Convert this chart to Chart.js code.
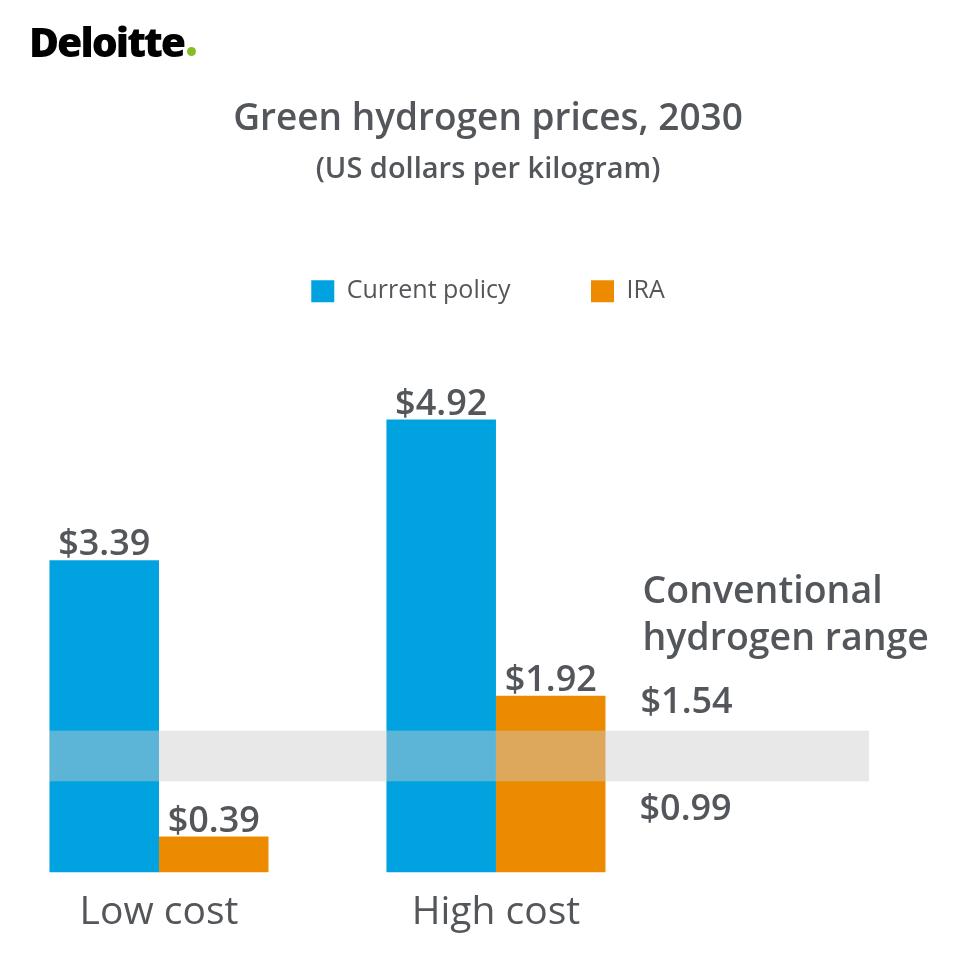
<!DOCTYPE html>
<html>
<head>
<meta charset="utf-8">
<script src="https://cdn.jsdelivr.net/npm/chart.js@4"></script>
<style>
  html, body { margin: 0; padding: 0; background: #ffffff; }
  #wrap { position: relative; width: 964px; height: 962px; }
  #logo { position: absolute; left: 29px; top: 16px; font-family: "Open Sans", sans-serif; font-weight: 800; font-size: 41px; letter-spacing: -2px; color: #000; line-height: 50px; white-space: nowrap; }
  #dot { position: absolute; left: 187px; top: 47px; width: 9px; height: 9px; border-radius: 50%; background: #86bc25; }
  canvas { position: absolute; left: 0; top: 0; }
</style>
</head>
<body>
<div id="wrap">
  <canvas id="c" width="964" height="962"></canvas>
  <div id="logo">Deloitte</div>
  <div id="dot"></div>
</div>
<script>
// ---- data ----
const categories = ['Low cost', 'High cost'];
const seriesNames = ['Current policy', 'IRA'];
const currentPolicy = [3.39, 4.92];
const ira = [0.39, 1.92];
const conventionalRange = [0.99, 1.54];
const rangeLabel = ['Conventional', 'hydrogen range'];
const titleText = 'Green hydrogen prices, 2030';
const subtitleText = '(US dollars per kilogram)';

const TEXT = '#53565a';
const BLUE = '#00a3e0';
const ORANGE = '#ed8b00';

Chart.defaults.font.family = '"Open Sans", sans-serif';
Chart.defaults.color = TEXT;

const fmt = v => '$' + v.toFixed(2);

const overlayPlugin = {
  id: 'overlay',
  afterDatasetsDraw(chart) {
    const { ctx, chartArea, scales } = chart;
    const y = scales.y;
    const top = y.getPixelForValue(conventionalRange[1]);
    const bot = y.getPixelForValue(conventionalRange[0]);
    const mid = (top + bot) / 2;
    ctx.save();
    // band
    ctx.fillStyle = 'rgba(205,205,205,0.45)';
    ctx.fillRect(chartArea.left, top, chartArea.right - chartArea.left, bot - top);
    // value labels
    ctx.fillStyle = TEXT;
    ctx.font = '600 36px "Open Sans"';
    ctx.textAlign = 'center';
    ctx.textBaseline = 'alphabetic';
    chart.data.datasets.forEach((ds, di) => {
      const meta = chart.getDatasetMeta(di);
      meta.data.forEach((el, i) => {
        ctx.fillText(fmt(ds.data[i].y), el.x, el.y - 5);
      });
    });
    // range annotation
    const lastBar = chart.getDatasetMeta(1).data[1];
    const ax = lastBar.x + lastBar.width / 2 + 37;
    ctx.textAlign = 'left';
    ctx.font = '600 37.5px "Open Sans"';
    ctx.fillText(rangeLabel[0], ax, mid - 152.5);
    ctx.fillText(rangeLabel[1], ax, mid - 105.5);
    ctx.font = '600 36px "Open Sans"';
    ctx.fillText(fmt(conventionalRange[1]), ax - 2, mid - 42.5);
    ctx.fillText(fmt(conventionalRange[0]), ax - 3, mid + 64.5);
    ctx.restore();
  }
};

new Chart(document.getElementById('c'), {
  type: 'bar',
  data: {
    datasets: [
      { label: seriesNames[0], data: categories.map((c, i) => ({ x: i, y: currentPolicy[i] })), backgroundColor: BLUE, borderWidth: 0 },
      { label: seriesNames[1], data: categories.map((c, i) => ({ x: i, y: ira[i] })), backgroundColor: ORANGE, borderWidth: 0 }
    ]
  },
  options: {
    responsive: false,
    devicePixelRatio: 1,
    animation: false,
    categoryPercentage: 0.65,
    barPercentage: 1.0,
    layout: { padding: { top: 0, left: 49, right: 37, bottom: 9.6 } },
    plugins: {
      title: { display: true, text: titleText, color: TEXT, font: { size: 37, weight: '600' }, padding: { top: 97, bottom: 0 } },
      subtitle: { display: true, text: subtitleText, color: TEXT, font: { size: 29, weight: '600' }, padding: { top: 11, bottom: 11 } },
      legend: {
        display: true, position: 'top',
        labels: { boxWidth: 23, boxHeight: 22, padding: 80.5, color: TEXT, font: { size: 25, weight: '400' } }
      },
      tooltip: { enabled: false }
    },
    scales: {
      x: {
        type: 'linear', offset: false, min: -0.3264, max: 2.107,
        grid: { display: false, drawTicks: false, tickLength: 0 },
        border: { display: false },
        afterBuildTicks(scale) { scale.ticks = categories.map((c, i) => ({ value: i })); },
        ticks: { padding: 16.6, maxRotation: 0, autoSkip: false, color: TEXT, font: { size: 39, weight: '400' },
          callback: v => categories[v] }
      },
      y: {
        position: 'right', min: 0, max: 6.07,
        grid: { display: false, drawTicks: false },
        border: { display: false },
        ticks: { display: false },
        afterFit(scale) { scale.width = 58; }
      }
    }
  },
  plugins: [overlayPlugin]
});
</script>
</body>
</html>
